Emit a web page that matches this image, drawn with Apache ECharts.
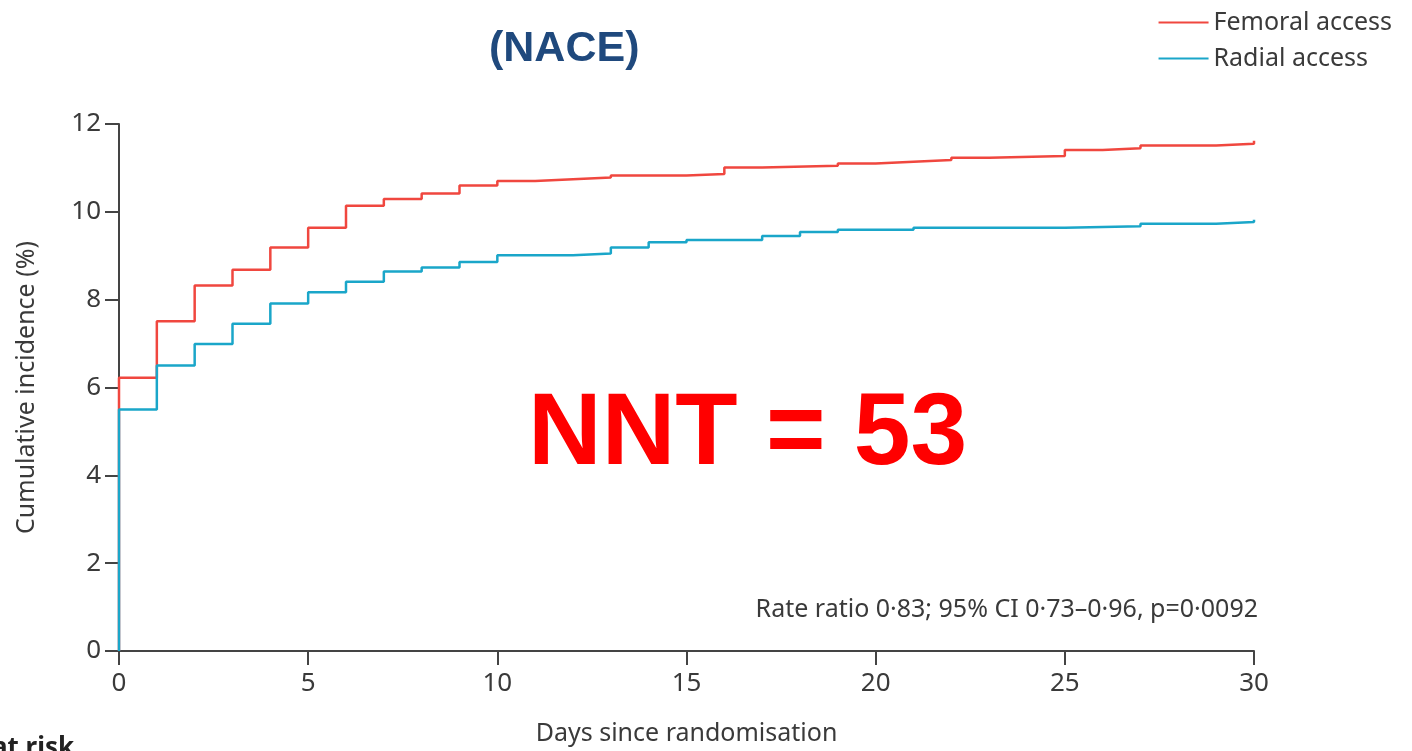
<!DOCTYPE html>
<html>
<head>
<meta charset="utf-8">
<script src="https://cdn.jsdelivr.net/npm/echarts@6/dist/echarts.min.js"></script>
<style>html,body{margin:0;padding:0;background:#fff;}#c{width:1412px;height:751px;}</style>
</head>
<body>
<div id="c"></div>
<script>
var femoralDays = [0, 0, 1, 2, 3, 4, 5, 6, 7, 8, 9, 10, 11, 12, 13, 15, 16, 17, 19, 20, 21, 22, 23, 25, 26, 27, 29, 30];
var femoralValues = [0, 6.22, 7.51, 8.32, 8.68, 9.19, 9.64, 10.14, 10.29, 10.42, 10.60, 10.70, 10.74, 10.78, 10.83, 10.86, 11.01, 11.05, 11.10, 11.14, 11.18, 11.23, 11.27, 11.41, 11.45, 11.51, 11.55, 11.62];
var radialDays = [0, 0, 1, 2, 3, 4, 5, 6, 7, 8, 9, 10, 12, 13, 14, 15, 17, 18, 19, 21, 25, 27, 29, 30];
var radialValues = [0, 5.50, 6.50, 6.99, 7.45, 7.91, 8.17, 8.41, 8.64, 8.73, 8.86, 9.01, 9.05, 9.19, 9.31, 9.36, 9.45, 9.54, 9.59, 9.64, 9.67, 9.73, 9.77, 9.82];
var seriesNames = ['Femoral access', 'Radial access'];
var xTicks = [0, 5, 10, 15, 20, 25, 30];
var yTicks = [0, 2, 4, 6, 8, 10, 12];

function pairs(xs, ys) { return xs.map(function (x, i) { return [x, ys[i]]; }); }

var FONT = 'Noto Sans';
var TXT = '#3a3a3a';
var chart = echarts.init(document.getElementById('c'));
chart.setOption({
  animation: false,
  grid: { left: 119, right: 158, top: 124, bottom: 99, containLabel: false },
  legend: {
    orient: 'vertical', right: 15, top: 5, itemGap: 11,
    itemWidth: 50, itemHeight: 2, icon: 'rect',
    textStyle: { fontFamily: FONT, fontSize: 25, color: TXT },
    data: seriesNames
  },
  xAxis: {
    type: 'value', min: 0, max: 30, interval: 5,
    name: 'Days since randomisation', nameLocation: 'middle', nameGap: 70,
    nameTextStyle: { fontFamily: FONT, fontSize: 25, color: TXT },
    axisLine: { lineStyle: { color: '#444', width: 2 } },
    axisTick: { length: 14, lineStyle: { color: '#444', width: 2 } },
    axisLabel: { fontFamily: FONT, fontSize: 26, color: TXT, margin: 20,
      formatter: function (v) { return xTicks.indexOf(v) >= 0 ? String(v) : ''; } },
    splitLine: { show: false }
  },
  yAxis: {
    type: 'value', min: 0, max: 12, interval: 2,
    name: 'Cumulative incidence (%)', nameLocation: 'middle', nameGap: 80, nameRotate: 90,
    nameTextStyle: { fontFamily: FONT, fontSize: 25, color: TXT },
    axisLine: { show: true, lineStyle: { color: '#444', width: 2 } },
    axisTick: { show: true, length: 14, lineStyle: { color: '#444', width: 2 } },
    axisLabel: { fontFamily: FONT, fontSize: 26, color: TXT, margin: 18,
      formatter: function (v) { return yTicks.indexOf(v) >= 0 ? String(v) : ''; } },
    splitLine: { show: false }
  },
  series: [
    { name: seriesNames[0], type: 'line', step: 'end', symbol: 'none',
      data: pairs(femoralDays, femoralValues), z: 2,
      itemStyle: { color: '#f0473f' }, lineStyle: { color: '#f0473f', width: 2.5 } },
    { name: seriesNames[1], type: 'line', step: 'end', symbol: 'none',
      data: pairs(radialDays, radialValues), z: 3,
      itemStyle: { color: '#1aa6c9' }, lineStyle: { color: '#1aa6c9', width: 2.5 } }
  ],
  graphic: [
    { type: 'text', left: 489, top: 28,
      style: { text: '(NACE)', fontFamily: 'Liberation Sans', fontWeight: 'bold', fontSize: 43, fill: '#1f497d' } },
    { type: 'text', left: 528, top: 385,
      style: { text: 'NNT = 53', fontFamily: 'Liberation Sans', fontWeight: 'bold', fontSize: 102, fill: '#ff0000' } },
    { type: 'text', right: 154, top: 597,
      style: { text: 'Rate ratio 0·83; 95% CI 0·73–0·96, p=0·0092', fontFamily: FONT, fontSize: 25, fill: TXT } },
    { type: 'text', left: -8, top: 736,
      style: { text: 'at risk', fontFamily: FONT, fontWeight: 'bold', fontSize: 26, fill: '#222' } }
  ]
});
</script>
</body>
</html>
